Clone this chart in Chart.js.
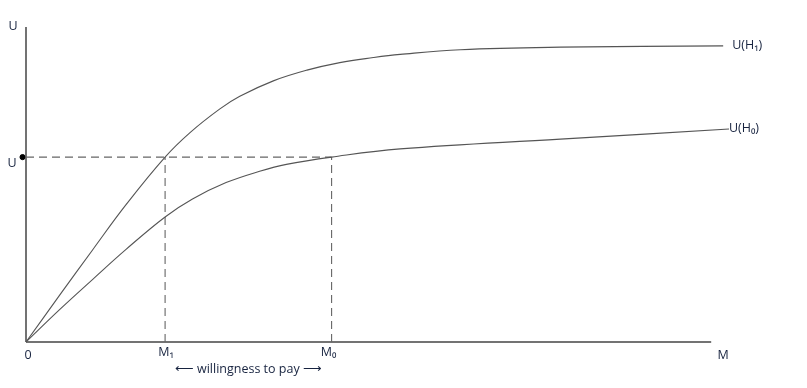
<!DOCTYPE html>
<html>
<head>
<meta charset="utf-8">
<script src="https://cdn.jsdelivr.net/npm/chart.js@4/dist/chart.umd.min.js"></script>
<style>
html,body{margin:0;padding:0;background:#fff;}
#wrap{width:807px;height:388px;position:relative;}
</style>
</head>
<body>
<div id="wrap"><canvas id="c" width="807" height="388"></canvas></div>
<script>
// Money (M) positions and utility levels
const xH1 = [0, 4.86, 9.74, 14.6, 20.3, 23.9, 28.3, 31.2, 36.1, 41.0, 45.8, 50.7, 54.6, 63.4, 78.0, 101.75];
const yH1 = [0, 14.7, 29.3, 43.6, 58.7, 66.4, 74.0, 78.0, 82.9, 86.3, 88.7, 90.3, 91.3, 92.8, 93.6, 94.0];
const xH0 = [0, 4.86, 9.74, 14.6, 20.3, 24.3, 29.2, 34.1, 38.0, 44.6, 54.6, 78.0, 102.6];
const yH0 = [0, 10.2, 19.9, 29.4, 39.7, 45.4, 50.6, 54.2, 56.4, 58.7, 61.3, 64.4, 67.6];
const M1 = 20.3, M0 = 44.6, Ustar = 58.7;
const xAxisEnd = 100, yAxisEnd = 100;
const curveLabels = ["U(H\u2081)", "U(H\u2080)"];
const xLabels = ["0", "M\u2081", "M\u2080", "M"];
const yLabels = ["U", "U"];
const wtpLabel = "\u27F5 willingness to pay \u27F6";

const pts = (xs, ys) => xs.map((x, i) => ({x, y: ys[i]}));
const lineStyle = {borderColor:'#555', borderWidth:1.1, pointRadius:0, fill:false, tension:0.4};
const dashStyle = {borderColor:'#666', borderWidth:1.1, pointRadius:0, fill:false, borderDash:[8,5], tension:0};

const labelPlugin = {
  id:'labels',
  afterDatasetsDraw(chart){
    const {ctx, scales:{x, y}} = chart;
    ctx.save();
    ctx.fillStyle = '#17233f';
    ctx.font = '12.5px "Open Sans", "Liberation Sans", sans-serif';
    ctx.textAlign = 'center';
    ctx.textBaseline = 'middle';
    const x0 = x.getPixelForValue(0), y0 = y.getPixelForValue(0);
    ctx.fillText(yLabels[0], x0 - 13, y.getPixelForValue(yAxisEnd) - 1);
    ctx.fillText(yLabels[1], x0 - 14, y.getPixelForValue(Ustar) + 6);
    ctx.fillText(xLabels[0], x0 + 2, y0 + 13);
    ctx.fillText(xLabels[1], x.getPixelForValue(M1) + 1, y0 + 10);
    ctx.fillText(xLabels[2], x.getPixelForValue(M0) - 3, y0 + 10);
    ctx.fillText(xLabels[3], x.getPixelForValue(xAxisEnd) + 12, y0 + 13);
    ctx.textAlign = 'left';
    ctx.fillText(curveLabels[0], x.getPixelForValue(xH1[xH1.length-1]) + 9, y.getPixelForValue(yH1[yH1.length-1]));
    ctx.fillText(curveLabels[1], x.getPixelForValue(xH0[xH0.length-1]) + 0, y.getPixelForValue(yH0[yH0.length-1]) - 1);
    ctx.textAlign = 'center';
    ctx.fillText(wtpLabel, (x.getPixelForValue(M1) + x.getPixelForValue(M0)) / 2, y0 + 27);
    ctx.restore();
  }
};

new Chart(document.getElementById('c'), {
  type:'scatter',
  data:{datasets:[
    {...lineStyle, showLine:true, data:pts(xH1, yH1)},
    {...lineStyle, showLine:true, data:pts(xH0, yH0)},
    {...dashStyle, showLine:true, data:[{x:0,y:Ustar},{x:M0,y:Ustar}]},
    {...dashStyle, showLine:true, data:[{x:M1,y:0},{x:M1,y:Ustar}]},
    {...dashStyle, showLine:true, data:[{x:M0,y:0},{x:M0,y:Ustar}]},
    {borderColor:'#444', borderWidth:1.5, pointRadius:0, showLine:true, tension:0, data:[{x:0,y:0},{x:xAxisEnd,y:0}]},
    {borderColor:'#444', borderWidth:1.5, pointRadius:0, showLine:true, tension:0, data:[{x:0,y:0},{x:0,y:yAxisEnd}]},
    {showLine:false, pointRadius:2.6, pointBackgroundColor:'#000', pointBorderColor:'#000', data:[{x:-0.5,y:Ustar}]}
  ]},
  options:{
    responsive:false, animation:false,
    layout:{padding:{left:26, right:78, top:27, bottom:46}},
    clip:false,
    plugins:{legend:{display:false}, tooltip:{enabled:false}},
    scales:{
      x:{type:'linear', display:false, min:0, max:102.6},
      y:{type:'linear', display:false, min:0, max:100}
    }
  },
  plugins:[labelPlugin]
});
</script>
</body>
</html>
